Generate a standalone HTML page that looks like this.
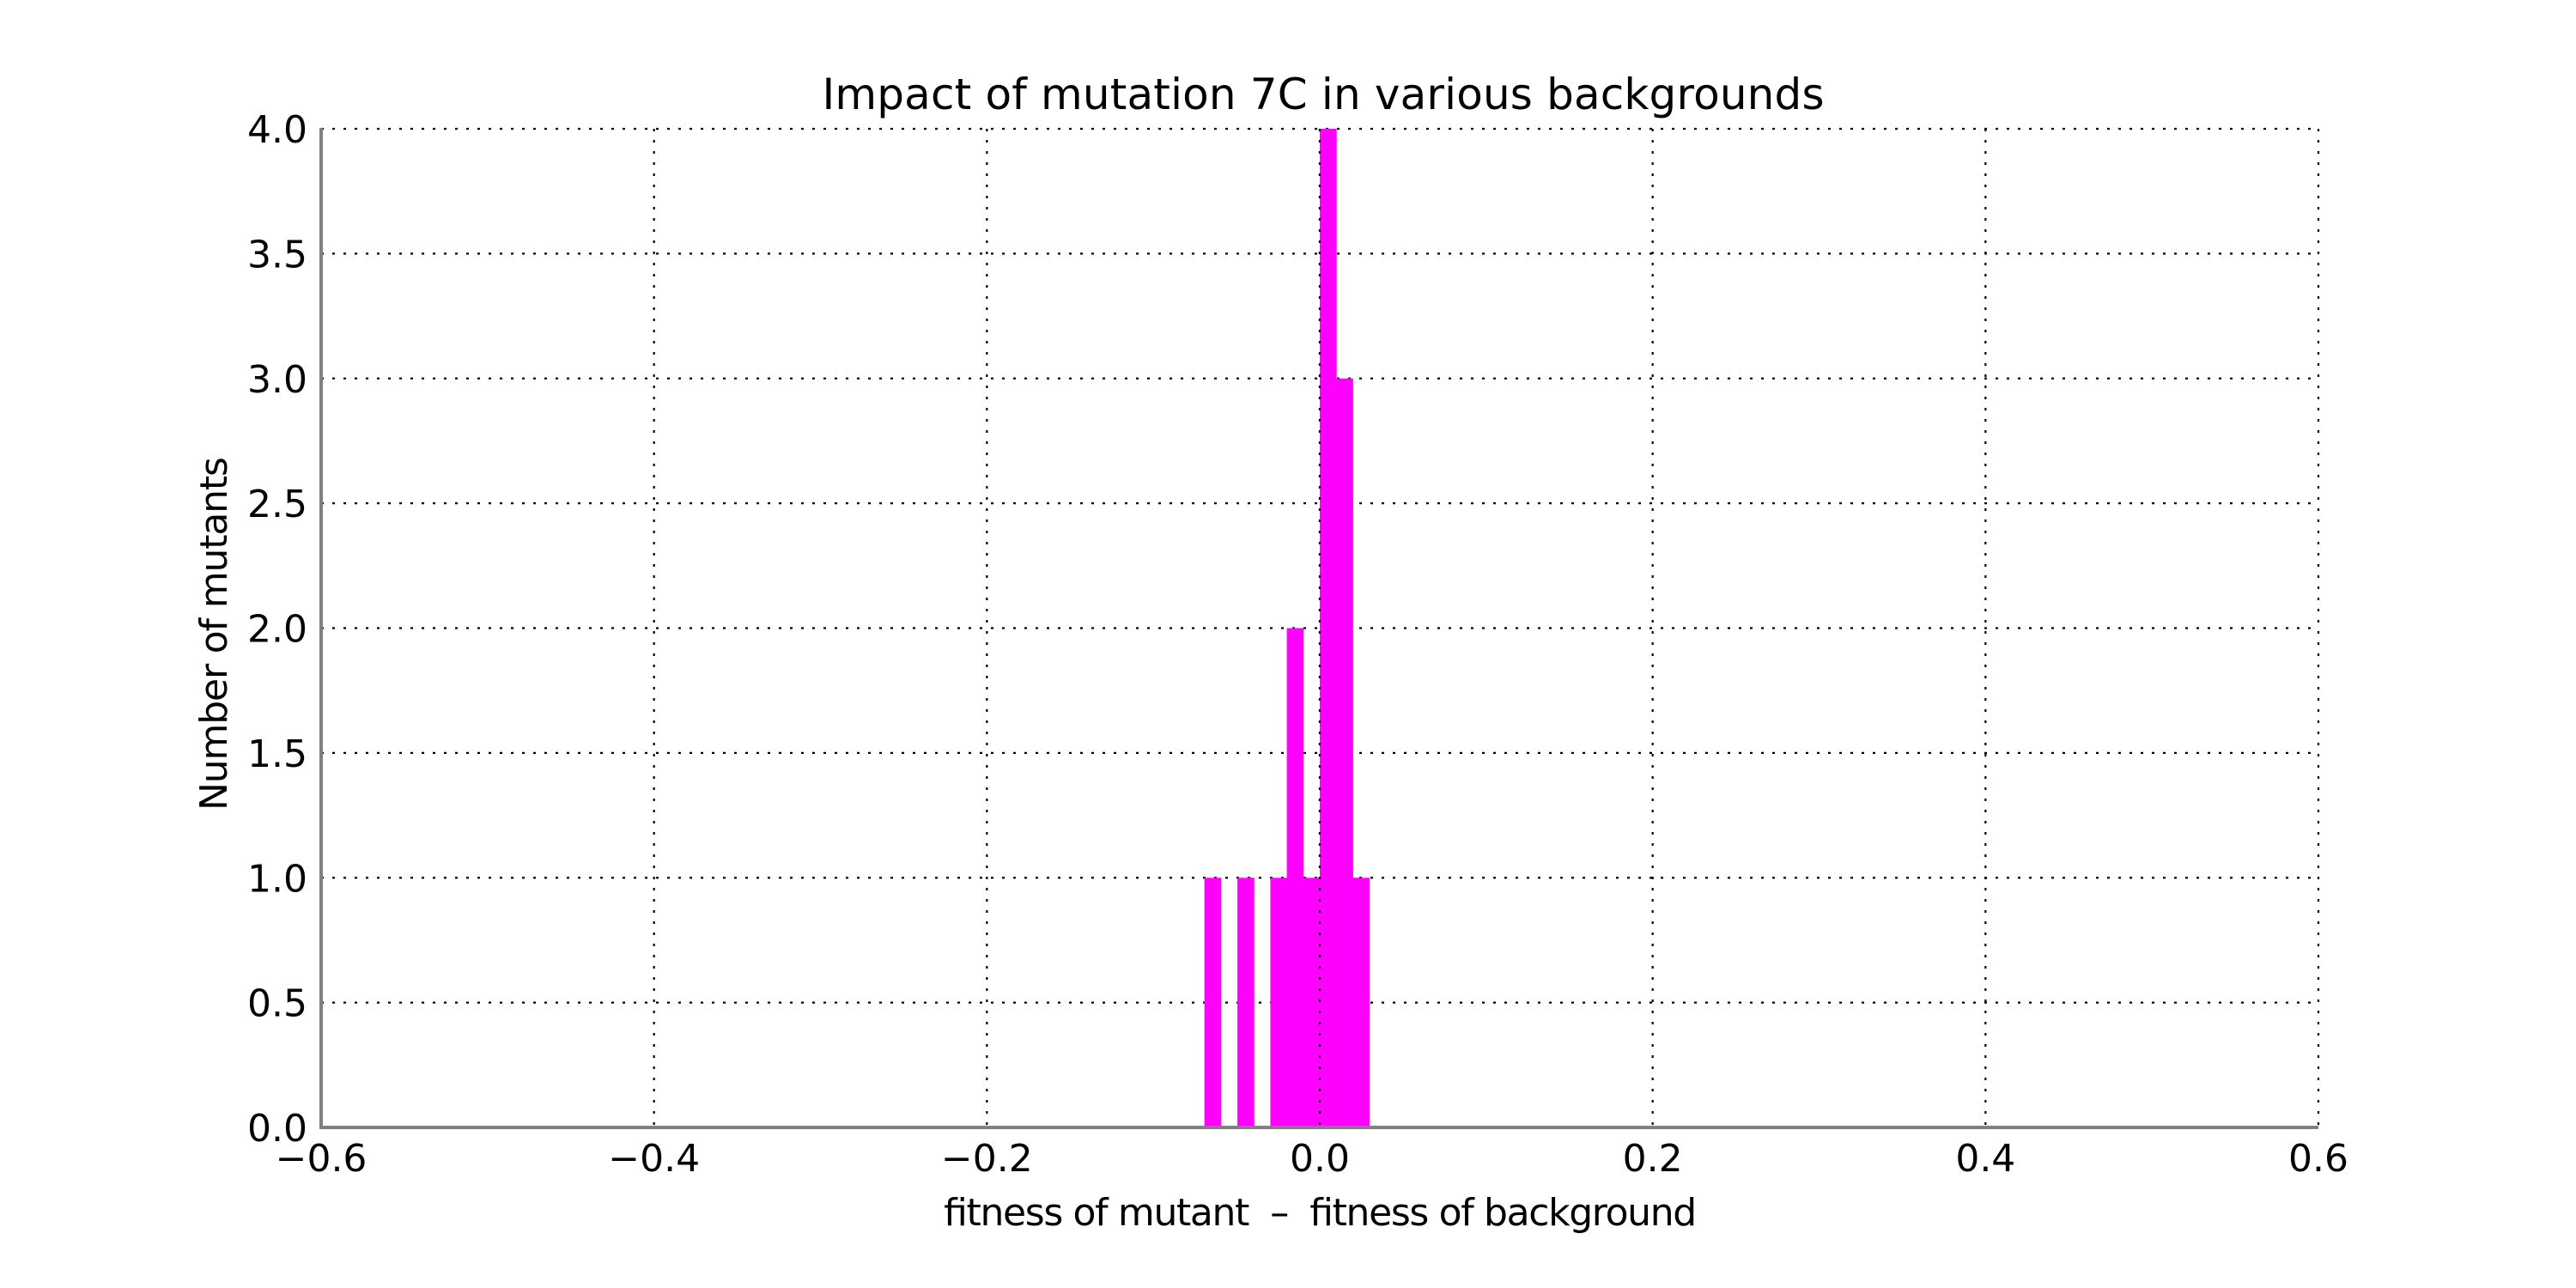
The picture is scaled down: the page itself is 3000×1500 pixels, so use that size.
<!DOCTYPE html>
<html><head><meta charset="utf-8"><style>
html,body{margin:0;padding:0;background:#fff;}
svg{display:block;font-family:"DejaVu Sans","Liberation Sans",sans-serif;}
</style></head><body>
<svg id="chart" width="3000" height="1500" viewBox="0 0 3000 1500" xmlns="http://www.w3.org/2000/svg">
<rect width="3000" height="1500" fill="#fff"/>
<text x="1541" y="127" font-size="50" text-anchor="middle" textLength="1167">Impact of mutation 7C in various backgrounds</text>
<text x="1537" y="1427" font-size="44" text-anchor="middle" textLength="877" style="white-space:pre" xml:space="preserve">fitness of mutant  –  fitness of background</text>
<text transform="translate(264,738) rotate(-90)" font-size="44" text-anchor="middle" textLength="412">Number of mutants</text>
<g id="grid"></g><g id="bars"></g><g id="axes"></g>
</svg>
<script>
const binStart = -0.0693;
const binWidth = 0.0099;
const counts = [1, 0, 1, 0, 1, 2, 1, 4, 3, 1];
const xTicks = [-0.6, -0.4, -0.2, 0.0, 0.2, 0.4, 0.6];
const xTickLabels = ["\u22120.6", "\u22120.4", "\u22120.2", "0.0", "0.2", "0.4", "0.6"];
const yTicks = [0, 0.5, 1, 1.5, 2, 2.5, 3, 3.5, 4];
const yTickLabels = ["0.0", "0.5", "1.0", "1.5", "2.0", "2.5", "3.0", "3.5", "4.0"];

const NS = "http://www.w3.org/2000/svg";
const L = 374, R = 2700, T = 150, B = 1313;
const xMin = -0.6, xMax = 0.6, yMin = 0, yMax = 4;
function X(v){ return L + (v - xMin) / (xMax - xMin) * (R - L); }
function Y(v){ return B - (v - yMin) / (yMax - yMin) * (B - T); }
function mk(tag, attrs, parent){
  const e = document.createElementNS(NS, tag);
  for (const k in attrs) e.setAttribute(k, attrs[k]);
  parent.appendChild(e);
  return e;
}
const grid = document.getElementById('grid');
const bars = document.getElementById('bars');
const axes = document.getElementById('axes');

yTicks.forEach((t, i) => {
  const g = mk('line', {x1: L, x2: R, y1: Y(t), y2: Y(t), stroke: '#000', 'stroke-width': 2.2, 'stroke-dasharray': '3 10'}, grid);
  
  
  const lb = mk('text', {x: 358, y: Y(t) + 16, 'font-size': 44, 'text-anchor': 'end'}, axes);
  lb.textContent = yTickLabels[i];
  
  
});
xTicks.forEach((t, i) => {
  const g = mk('line', {x1: X(t), x2: X(t), y1: T, y2: B, stroke: '#000', 'stroke-width': 2.2, 'stroke-dasharray': '3 10'}, grid);
  
  
  const lb = mk('text', {x: X(t), y: 1364, 'font-size': 44, 'text-anchor': 'middle'}, axes);
  lb.textContent = xTickLabels[i];
  
  
});
counts.forEach((c, i) => {
  if (c <= 0) return;
  const x0 = X(binStart + i * binWidth), x1 = X(binStart + (i + 1) * binWidth);
  const r = mk('rect', {x: x0, y: Y(c), width: x1 - x0 + 0.5, height: Y(0) - Y(c), fill: '#ff00ff'}, bars);
  
  
});
const zl = mk('line', {x1: X(0), x2: X(0), y1: T, y2: B, stroke: '#000', 'stroke-width': 2.2, 'stroke-dasharray': '3 10'}, bars);


const sl = mk('line', {x1: L, x2: L, y1: T - 1, y2: B + 2, stroke: '#808080', 'stroke-width': 4}, axes);


const sb = mk('line', {x1: L - 2, x2: R, y1: B, y2: B, stroke: '#808080', 'stroke-width': 4}, axes);


</script>
</body></html>
